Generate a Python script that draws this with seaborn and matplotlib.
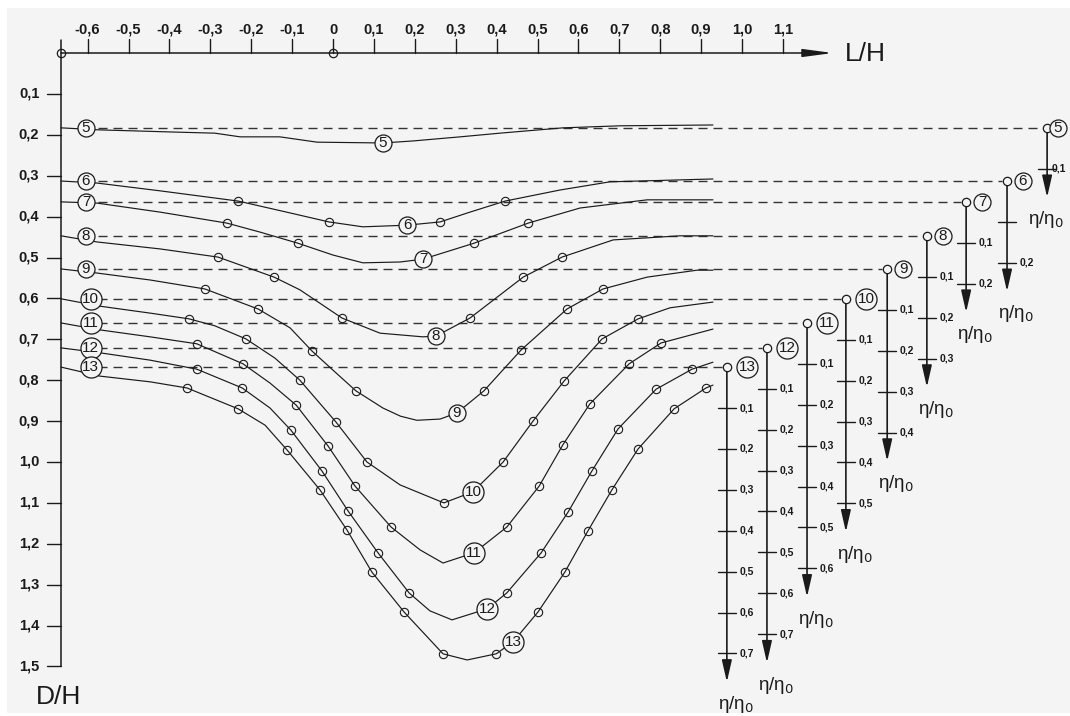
import matplotlib
matplotlib.use('Agg')
import matplotlib.pyplot as plt
import seaborn as sns

# top axis L/H and left axis D/H
lh_ticks = [-0.6, -0.5, -0.4, -0.3, -0.2, -0.1, 0.0, 0.1, 0.2, 0.3, 0.4, 0.5, 0.6, 0.7, 0.8, 0.9, 1.0, 1.1]
lh_labels = ['-0,6', '-0,5', '-0,4', '-0,3', '-0,2', '-0,1', '0', '0,1', '0,2', '0,3', '0,4', '0,5',
             '0,6', '0,7', '0,8', '0,9', '1,0', '1,1']
dh_ticks = [0.1, 0.2, 0.3, 0.4, 0.5, 0.6, 0.7, 0.8, 0.9, 1.0, 1.1, 1.2, 1.3, 1.4, 1.5]
dh_labels = ['0,1', '0,2', '0,3', '0,4', '0,5', '0,6', '0,7', '0,8', '0,9', '1,0', '1,1', '1,2',
             '1,3', '1,4', '1,5']

# curves: L/H, D/H, indices of small circles, index of the number label
L5 = [-0.665, -0.570, -0.399, -0.289, -0.227, -0.130, -0.039, 0.122, 0.196, 0.311, 0.408, 0.562, 0.702, 0.929]
D5 = [0.183, 0.188, 0.193, 0.196, 0.205, 0.205, 0.218, 0.220, 0.215, 0.205, 0.196, 0.183, 0.178, 0.176]
M5 = []
T5 = 7

L6 = [-0.665, -0.577, -0.423, -0.232, -0.105, -0.010, 0.073, 0.181, 0.262, 0.335, 0.421, 0.555, 0.677, 0.929]
D6 = [0.313, 0.318, 0.337, 0.362, 0.391, 0.413, 0.425, 0.421, 0.413, 0.389, 0.362, 0.335, 0.315, 0.308]
M6 = [3, 5, 8, 10]
T6 = 7

L7 = [-0.665, -0.577, -0.423, -0.259, -0.178, -0.086, 0.000, 0.073, 0.164, 0.220, 0.345, 0.477, 0.604, 0.768, 0.929]
D7 = [0.364, 0.367, 0.389, 0.416, 0.438, 0.465, 0.494, 0.513, 0.511, 0.504, 0.465, 0.416, 0.379, 0.359, 0.359]
M7 = [3, 5, 10, 11]
T7 = 9

L8 = [-0.665, -0.577, -0.423, -0.281, -0.144, -0.081, 0.022, 0.115, 0.220, 0.252, 0.335, 0.465, 0.560, 0.685,
      0.848, 0.929]
D8 = [0.447, 0.462, 0.479, 0.499, 0.548, 0.579, 0.648, 0.685, 0.694, 0.692, 0.648, 0.548, 0.499, 0.457,
      0.447, 0.447]
M8 = [3, 4, 6, 10, 11, 12]
T8 = 9

L9 = [-0.665, -0.577, -0.447, -0.313, -0.183, -0.105, -0.051, 0.005, 0.056, 0.122, 0.165, 0.205, 0.262, 0.303,
      0.369, 0.460, 0.572, 0.660, 0.768, 0.890, 0.929]
D9 = [0.528, 0.538, 0.555, 0.577, 0.626, 0.672, 0.729, 0.780, 0.826, 0.868, 0.888, 0.898, 0.895, 0.880,
      0.826, 0.726, 0.626, 0.577, 0.548, 0.531, 0.531]
M9 = [3, 4, 6, 8, 14, 15, 16, 17]
T9 = 13

L10 = [-0.665, -0.570, -0.447, -0.352, -0.289, -0.213, -0.142, -0.081, 0.007, 0.083, 0.164, 0.271, 0.342,
       0.416, 0.489, 0.565, 0.658, 0.746, 0.824, 0.929]
D10 = [0.601, 0.619, 0.636, 0.650, 0.667, 0.699, 0.746, 0.800, 0.902, 1.000, 1.056, 1.100, 1.073,
       1.000, 0.900, 0.802, 0.699, 0.650, 0.623, 0.609]
M10 = [3, 5, 7, 8, 9, 11, 13, 14, 15, 16, 17]
T10 = 12

L11 = [-0.665, -0.570, -0.447, -0.333, -0.220, -0.154, -0.090, -0.012, 0.054, 0.142, 0.213, 0.269, 0.345,
       0.425, 0.504, 0.562, 0.628, 0.724, 0.802, 0.929]
D11 = [0.660, 0.677, 0.694, 0.711, 0.760, 0.807, 0.861, 0.961, 1.059, 1.159, 1.215, 1.247, 1.222,
       1.159, 1.059, 0.958, 0.858, 0.760, 0.709, 0.675]
M11 = [3, 4, 6, 7, 8, 9, 13, 14, 15, 16, 17, 18]
T11 = 12

L12 = [-0.665, -0.570, -0.447, -0.333, -0.222, -0.154, -0.103, -0.027, 0.037, 0.110, 0.186, 0.237, 0.291,
       0.377, 0.425, 0.509, 0.575, 0.633, 0.697, 0.790, 0.878, 0.929]
D12 = [0.721, 0.733, 0.751, 0.773, 0.819, 0.868, 0.922, 1.022, 1.120, 1.222, 1.320, 1.364, 1.386,
       1.359, 1.320, 1.222, 1.122, 1.022, 0.919, 0.822, 0.773, 0.756]
M12 = [3, 4, 6, 7, 8, 9, 10, 14, 15, 16, 17, 18, 19, 20]
T12 = 13

L13 = [-0.665, -0.570, -0.447, -0.357, -0.232, -0.166, -0.112, -0.032, 0.034, 0.095, 0.174, 0.269, 0.328,
       0.399, 0.440, 0.501, 0.567, 0.623, 0.682, 0.746, 0.834, 0.912, 0.929]
D13 = [0.768, 0.790, 0.804, 0.819, 0.870, 0.910, 0.971, 1.068, 1.166, 1.269, 1.367, 1.469, 1.484,
       1.469, 1.440, 1.367, 1.269, 1.169, 1.068, 0.968, 0.870, 0.819, 0.812]
M13 = [3, 4, 6, 7, 8, 9, 10, 11, 13, 15, 16, 17, 18, 19, 20, 21]
T13 = 14

# eta/eta0 scales on the right (one per curve)
eta_L = [1.746, 1.648, 1.548, 1.452, 1.355, 1.254, 1.159, 1.061, 0.963]
eta_labels = [['0,1'], ['', '0,2'], ['0,1', '0,2'], ['0,1', '0,2', '0,3'], ['0,1', '0,2', '0,3', '0,4'],
              ['0,1', '0,2', '0,3', '0,4', '0,5'], ['0,1', '0,2', '0,3', '0,4', '0,5', '0,6'],
              ['0,1', '0,2', '0,3', '0,4', '0,5', '0,6', '0,7'],
              ['0,1', '0,2', '0,3', '0,4', '0,5', '0,6', '0,7']]

curves = [(5, L5, D5, M5, T5), (6, L6, D6, M6, T6), (7, L7, D7, M7, T7), (8, L8, D8, M8, T8),
          (9, L9, D9, M9, T9), (10, L10, D10, M10, T10), (11, L11, D11, M11, T11),
          (12, L12, D12, M12, T12), (13, L13, D13, M13, T13)]

sns.set_theme(style='white')
plt.rcParams['font.family'] = ['Liberation Sans', 'DejaVu Sans']

bg = '#f3f4f3'
ink = '#1a1a1a'
W, H = 1070, 716
x0, y0, s = 333, 53, 409.0
x_edge = (W - 4 - x0) / s  # keep texts inside the right edge

fig = plt.figure(figsize=(W / 100, H / 100), dpi=100, facecolor='white')
ax = fig.add_axes([7 / W, 3 / H, (W - 7) / W, 705 / H])
ax.set_xlim((7 - x0) / s, (W - x0) / s)
ax.set_ylim((713 - y0) / s, (8 - y0) / s)
ax.set_facecolor(bg)
for sp in ax.spines.values():
    sp.set_visible(False)
ax.set_xticks([])
ax.set_yticks([])

left = -0.665

# top axis with arrow
ax.annotate('', xy=(1.222, 0), xytext=(left, 0),
            arrowprops=dict(arrowstyle='-|>,head_length=1.5,head_width=0.2', color=ink, lw=1.1,
                            shrinkA=0, shrinkB=0))
for t, lab in zip(lh_ticks, lh_labels):
    ax.plot([t, t], [0, -0.034], color=ink, lw=1.0)
    ax.text(t, -0.057, lab, ha='center', va='center', fontsize=10.5, fontweight='bold', color=ink)
ax.text(1.252, 0.003, 'L/H', ha='left', va='center', fontsize=19, color=ink)

# left axis
ax.plot([left, left], [-0.032, 1.5], color=ink, lw=1.1)
for t, lab in zip(dh_ticks, dh_labels):
    ax.plot([left - 0.034, left], [t, t], color=ink, lw=1.0)
    ax.text(-0.718, t, lab, ha='right', va='center', fontsize=10.5, fontweight='bold', color=ink)
ax.text(-0.672, 1.575, 'D/H', ha='center', va='center', fontsize=19, color=ink)
ax.plot([left, 0], [0, 0], 'o', ms=6, mfc='none', mec=ink, mew=0.9)


def num_badge(x, y, n):
    size = 150 if n < 10 else 230
    ax.scatter([x], [y], s=size, marker='o', facecolor=bg, edgecolor=ink, linewidth=0.9, zorder=4)
    ax.text(x, y, str(n), ha='center', va='center', fontsize=11, color=ink, zorder=5)


for (n, L, D, marks, lab), ex, elabs in zip(curves, eta_L, eta_labels):
    top = D[0]
    # dashed reference level
    ax.plot([-0.575, ex - 0.012], [top, top], color='#333333', lw=1.0, ls=(0, (6.5, 4.3)), zorder=1)
    # curve
    sns.lineplot(x=L, y=D, sort=False, estimator=None, color=ink, linewidth=0.85, ax=ax, zorder=2)
    if marks:
        ax.plot([L[i] for i in marks], [D[i] for i in marks], 'o', ms=6, mfc='none', mec=ink,
                mew=0.8, zorder=3)
    num_badge(-0.604 if n < 10 else -0.592, top, n)
    num_badge(L[lab], D[lab], n)

    # eta/eta0 scale
    end = top + 0.1 * len(elabs) + 0.07
    ax.annotate('', xy=(ex, end), xytext=(ex, top),
                arrowprops=dict(arrowstyle='-|>,head_length=1.1,head_width=0.25', color=ink, lw=1.2,
                                shrinkA=0, shrinkB=0), annotation_clip=False)
    ax.plot([ex], [top], 'o', ms=6, mfc=bg, mec=ink, mew=0.9, zorder=4, clip_on=False)
    for k, tl in enumerate(elabs, start=1):
        y = top + 0.1 * k
        ax.plot([ex - 0.022, ex + 0.022], [y, y], color=ink, lw=1.0, clip_on=False)
        tx = min(ex + 0.03, x_edge - 0.036)
        ax.text(tx, y, tl, ha='left', va='center', fontsize=7.5, fontweight='bold', color=ink,
                zorder=5)
    num_badge(min(ex + (0.039 if n < 10 else 0.049), x_edge - 0.02), top, n)
    lx = min(ex + 0.022, x_edge - 0.05)
    ax.text(lx, end + 0.055, 'η/η$_0$', ha='center', va='center', fontsize=13.5, color=ink)

ax.set_xlabel('')
ax.set_ylabel('')
fig.savefig('out.png', dpi=100, facecolor='white')
